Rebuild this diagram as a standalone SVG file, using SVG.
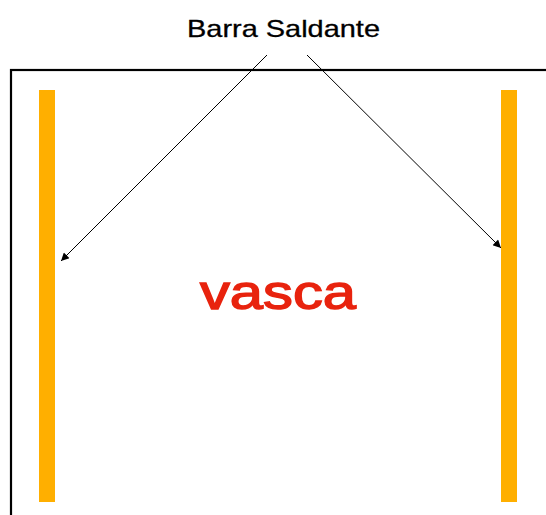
<svg xmlns="http://www.w3.org/2000/svg" width="546" height="515" viewBox="0 0 546 515">
<style>
.bar{fill:#FFAF00}
.lbl{font-family:"Liberation Sans",Arial,sans-serif;fill:#000}
.conn line{stroke:#000;stroke-width:1;marker-end:url(#ah)}
</style>
<defs>
<marker id="ah" viewBox="0 0 10 10" refX="10" refY="5" markerWidth="10" markerHeight="8" markerUnits="userSpaceOnUse" orient="auto">
<path d="M0,0 L10,5 L0,10 z" fill="#000"/>
</marker>
</defs>
<rect width="546" height="515" fill="#fff"/>
<g id="vasca">
<rect x="11" y="70" width="560" height="480" fill="none" stroke="#000" stroke-width="2.2"/>
<text x="200" y="309" font-size="48" textLength="156" lengthAdjust="spacingAndGlyphs" class="lbl" style="fill:#E8230E;stroke:#E8230E;stroke-width:1.4">vasca</text>
</g>
<g id="bar-left"><rect class="bar" x="39" y="90" width="16" height="412"/></g>
<g id="bar-right"><rect class="bar" x="501" y="90" width="16" height="412"/></g>
<g id="label"><text x="187" y="37" font-size="24" textLength="193" lengthAdjust="spacingAndGlyphs" class="lbl" style="stroke:#000;stroke-width:0.3">Barra Saldante</text></g>
<g class="conn" id="connectors">
<line x1="267" y1="55" x2="61" y2="261"/>
<line x1="307" y1="55" x2="501" y2="248"/>
</g>
</svg>
